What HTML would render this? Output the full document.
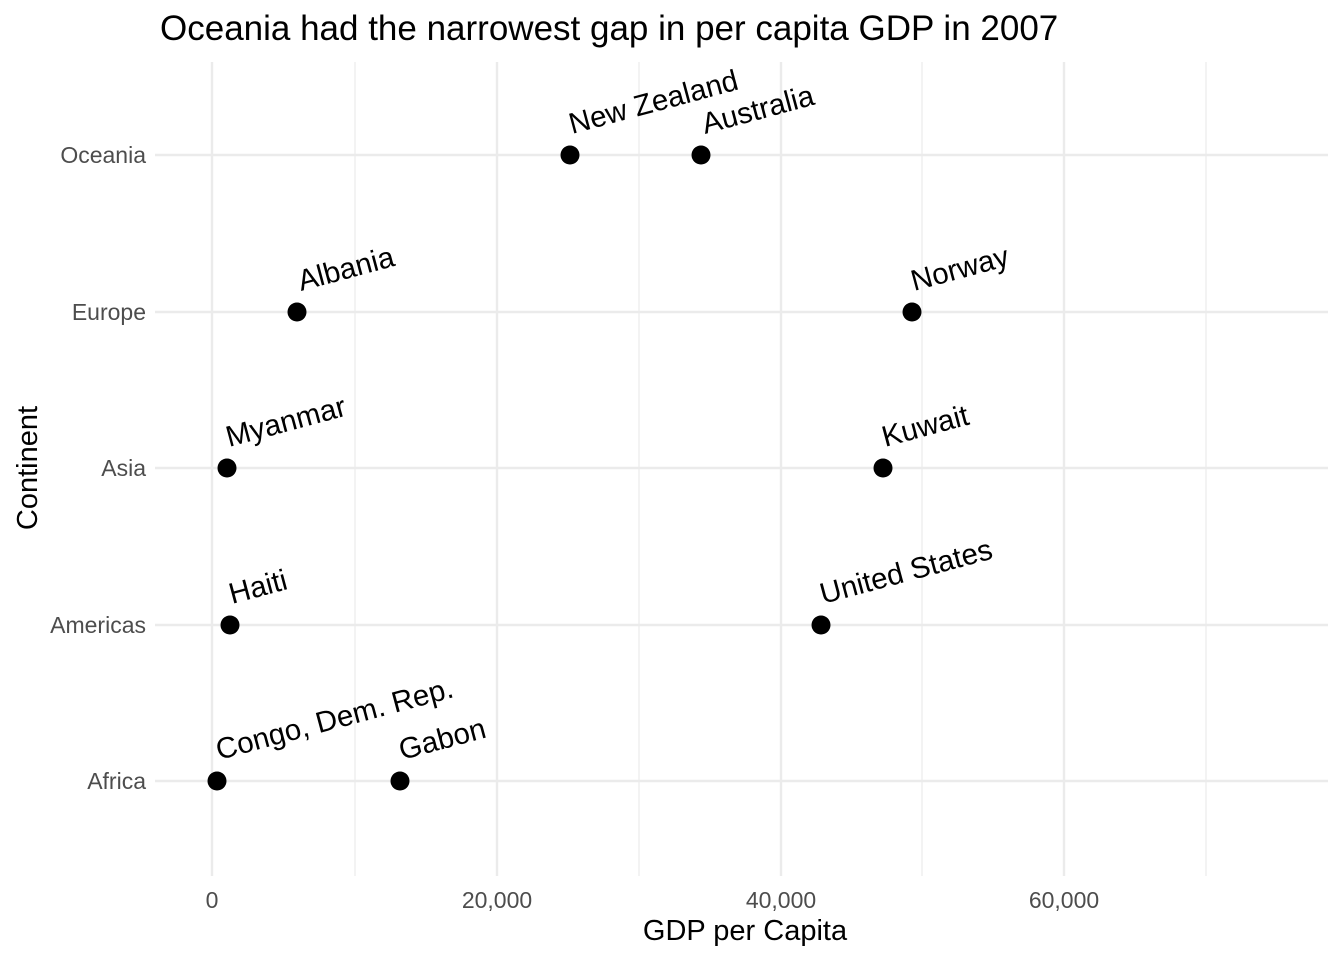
<!DOCTYPE html>
<html><head><style>body{margin:0;background:#fff}</style></head><body>
<svg width="1344" height="960" xmlns="http://www.w3.org/2000/svg" font-family="Liberation Sans, Arial, sans-serif">
<rect width="1344" height="960" fill="#fff"/>
<g stroke="#ebebeb" stroke-width="1.2">
<line x1="355" y1="62" x2="355" y2="876"/><line x1="639" y1="62" x2="639" y2="876"/><line x1="922" y1="62" x2="922" y2="876"/><line x1="1206" y1="62" x2="1206" y2="876"/>
</g>
<g stroke="#ebebeb" stroke-width="2.4">
<line x1="212" y1="62" x2="212" y2="876"/><line x1="497" y1="62" x2="497" y2="876"/><line x1="781" y1="62" x2="781" y2="876"/><line x1="1064" y1="62" x2="1064" y2="876"/>
<line x1="155" y1="155" x2="1328" y2="155"/><line x1="155" y1="312" x2="1328" y2="312"/><line x1="155" y1="468" x2="1328" y2="468"/><line x1="155" y1="625" x2="1328" y2="625"/><line x1="155" y1="781" x2="1328" y2="781"/>
</g>
<g fill="#4d4d4d" font-size="23" text-anchor="end">
<text x="146" y="163">Oceania</text><text x="146" y="320">Europe</text><text x="146" y="476">Asia</text><text x="146" y="633">Americas</text><text x="146" y="789">Africa</text>
</g>
<g fill="#4d4d4d" font-size="23" text-anchor="middle">
<text x="212" y="908">0</text><text x="497" y="908">20,000</text><text x="781" y="908">40,000</text><text x="1064" y="908">60,000</text>
</g>
<text x="745" y="940" font-size="29" text-anchor="middle">GDP per Capita</text>
<text transform="translate(37,468) rotate(-90)" font-size="29" text-anchor="middle">Continent</text>
<text x="160" y="40" font-size="35">Oceania had the narrowest gap in per capita GDP in 2007</text>
<g fill="#000">
<circle cx="570" cy="155" r="9.5"/><circle cx="701" cy="155" r="9.5"/>
<circle cx="297" cy="312" r="9.5"/><circle cx="912" cy="312" r="9.5"/>
<circle cx="227" cy="468" r="9.5"/><circle cx="883" cy="468" r="9.5"/>
<circle cx="230" cy="625" r="9.5"/><circle cx="821" cy="625" r="9.5"/>
<circle cx="217" cy="781" r="9.5"/><circle cx="400" cy="781" r="9.5"/>
</g>
<g font-size="29.5" fill="#000">
<text transform="translate(572,134) rotate(-15)">New Zealand</text>
<text transform="translate(705,134) rotate(-15)">Australia</text>
<text transform="translate(301,291) rotate(-15)">Albania</text>
<text transform="translate(914,291) rotate(-15)">Norway</text>
<text transform="translate(229,447) rotate(-15)">Myanmar</text>
<text transform="translate(885,447) rotate(-15)">Kuwait</text>
<text transform="translate(232,604) rotate(-15)">Haiti</text>
<text transform="translate(823,604) rotate(-15)">United States</text>
<text transform="translate(219,760) rotate(-15)">Congo, Dem. Rep.</text>
<text transform="translate(402,760) rotate(-15)">Gabon</text>
</g>
</svg>
</body></html>
